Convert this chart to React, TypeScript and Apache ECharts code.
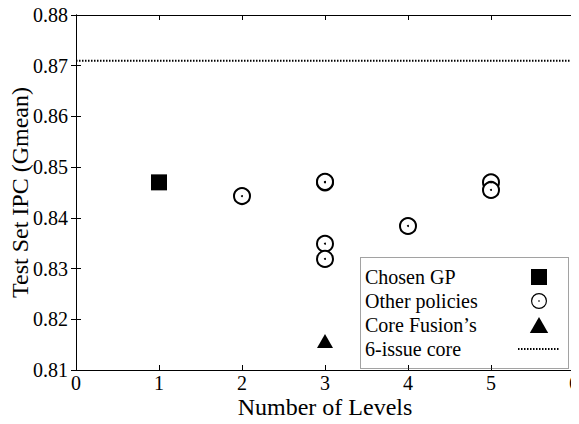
import React, { useEffect, useRef } from "react";
import * as echarts from "echarts";

const xTicks = [0, 1, 2, 3, 4, 5, 6];
const yTicks = [0.81, 0.82, 0.83, 0.84, 0.85, 0.86, 0.87, 0.88];
const chosenGP: number[][] = [[1, 0.847]];
const otherPolicies: number[][] = [
  [2, 0.8443],
  [3, 0.847],
  [3, 0.8471],
  [3, 0.8349],
  [3, 0.8319],
  [4, 0.8384],
  [5, 0.847],
  [5, 0.8455],
];
const coreFusion: number[][] = [[3, 0.8157]];
const sixIssueValue = 0.871;
const seriesNames = ["Chosen GP", "Other policies", "Core Fusion\u2019s", "6-issue core"];

const FONT = "Liberation Serif, Times New Roman, serif";

const ICON_SQUARE = "path://M0,0h1v1h-1z";
const ICON_TRIANGLE = "path://M0.5,0L1,0.87L0,0.87z";
const ICON_RING =
  "path://M8,0.5A7.5,7.5,0,1,1,8,15.5A7.5,7.5,0,1,1,8,0.5Z" +
  "M8,1.6A6.4,6.4,0,1,0,8,14.4A6.4,6.4,0,1,0,8,1.6Z" +
  "M7.4,7.4h1.2v1.2h-1.2z";

export default function App() {
  const ref = useRef<HTMLDivElement>(null);
  useEffect(() => {
    if (!ref.current) return;
    const chart = echarts.init(ref.current, undefined, { renderer: "svg" });
    const axisCommon = {
      axisLine: { show: true, lineStyle: { color: "#000", width: 1 } },
      axisTick: { show: true, inside: true, length: 5, lineStyle: { color: "#000" } },
      splitLine: { show: false },
    };
    chart.setOption({
      animation: false,
      backgroundColor: "#fff",
      textStyle: { fontFamily: FONT },
      grid: {
        left: 76,
        right: 5,
        top: 15,
        bottom: 54,
        containLabel: false,
        outerBoundsMode: "none",
      },
      xAxis: [
        {
          type: "value",
          min: xTicks[0],
          max: xTicks[xTicks.length - 1],
          interval: 1,
          position: "bottom",
          name: "Number of Levels",
          nameLocation: "middle",
          nameGap: 25,
          nameMoveOverlap: false,
          nameTextStyle: { fontFamily: FONT, fontSize: 24, color: "#000" },
          axisLabel: { fontFamily: FONT, fontSize: 20, color: "#000", margin: 3 },
          ...axisCommon,
        },
        {
          type: "value",
          min: xTicks[0],
          max: xTicks[xTicks.length - 1],
          interval: 1,
          position: "top",
          axisLabel: { show: false },
          ...axisCommon,
        },
      ],
      yAxis: [
        {
          type: "value",
          min: yTicks[0],
          max: yTicks[yTicks.length - 1],
          interval: 0.01,
          position: "left",
          name: "Test Set IPC (Gmean)",
          nameLocation: "middle",
          nameGap: 44,
          nameMoveOverlap: false,
          nameTextStyle: { fontFamily: FONT, fontSize: 24, color: "#000" },
          axisLabel: {
            fontFamily: FONT,
            fontSize: 20,
            color: "#000",
            margin: 8,
            formatter: (v: number) => v.toFixed(2),
          },
          ...axisCommon,
        },
        {
          type: "value",
          min: yTicks[0],
          max: yTicks[yTicks.length - 1],
          interval: 0.01,
          position: "right",
          axisLabel: { show: false },
          ...axisCommon,
        },
      ],
      legend: {
        orient: "vertical",
        left: 360,
        top: 257,
        padding: [8, 8, 8, 5],
        itemGap: 0,
        itemWidth: 42,
        itemHeight: 16,
        align: "right",
        symbolKeepAspect: true,
        data: [
          { name: seriesNames[0], icon: ICON_SQUARE, itemStyle: { borderWidth: 0 } },
          { name: seriesNames[1], icon: ICON_RING, itemStyle: { borderWidth: 0, color: "#000" } },
          { name: seriesNames[2], icon: ICON_TRIANGLE, itemStyle: { borderWidth: 0 } },
          { name: seriesNames[3], itemStyle: { opacity: 0 } },
        ],
        formatter: (name: string) => "{t|" + name + "}",
        textStyle: {
          fontFamily: FONT,
          fontSize: 20,
          color: "#000",
          lineHeight: 24,
          rich: {
            t: {
              fontFamily: FONT,
              fontSize: 20,
              color: "#000",
              lineHeight: 24,
              width: 148,
              align: "left",
            },
          },
        },
      },
      graphic: [
        {
          type: "rect",
          shape: { x: 360.5, y: 257.5, width: 208, height: 111 },
          style: { fill: "none", stroke: "#444", lineWidth: 1, lineDash: [1, 1] },
          z: 10,
        },
      ],
      series: [
        {
          name: seriesNames[0],
          type: "scatter",
          symbol: "rect",
          symbolSize: 16,
          itemStyle: { color: "#000", opacity: 1 },
          data: chosenGP,
        },
        {
          name: seriesNames[1],
          type: "scatter",
          symbol: "emptyCircle",
          symbolSize: 16,
          itemStyle: { color: "#000", borderColor: "#222", borderWidth: 0.8, opacity: 1 },
          data: otherPolicies,
        },
        {
          name: seriesNames[1],
          type: "scatter",
          symbol: "circle",
          symbolSize: 2,
          itemStyle: { color: "#000", opacity: 1 },
          data: otherPolicies,
          z: 3,
        },
        {
          name: seriesNames[2],
          type: "scatter",
          symbol: "triangle",
          symbolSize: [16, 14],
          itemStyle: { color: "#000", opacity: 1 },
          data: coreFusion,
        },
        {
          name: seriesNames[3],
          type: "line",
          symbol: "none",
          lineStyle: { color: "#000", width: 2, type: [1.5, 1.5] },
          itemStyle: { color: "#000" },
          data: [
            [xTicks[0], sixIssueValue],
            [xTicks[xTicks.length - 1], sixIssueValue],
          ],
        },
      ],
    });
    return () => chart.dispose();
  }, []);
  return <div ref={ref} style={{ width: 579, height: 424, margin: -8 }} />;
}
